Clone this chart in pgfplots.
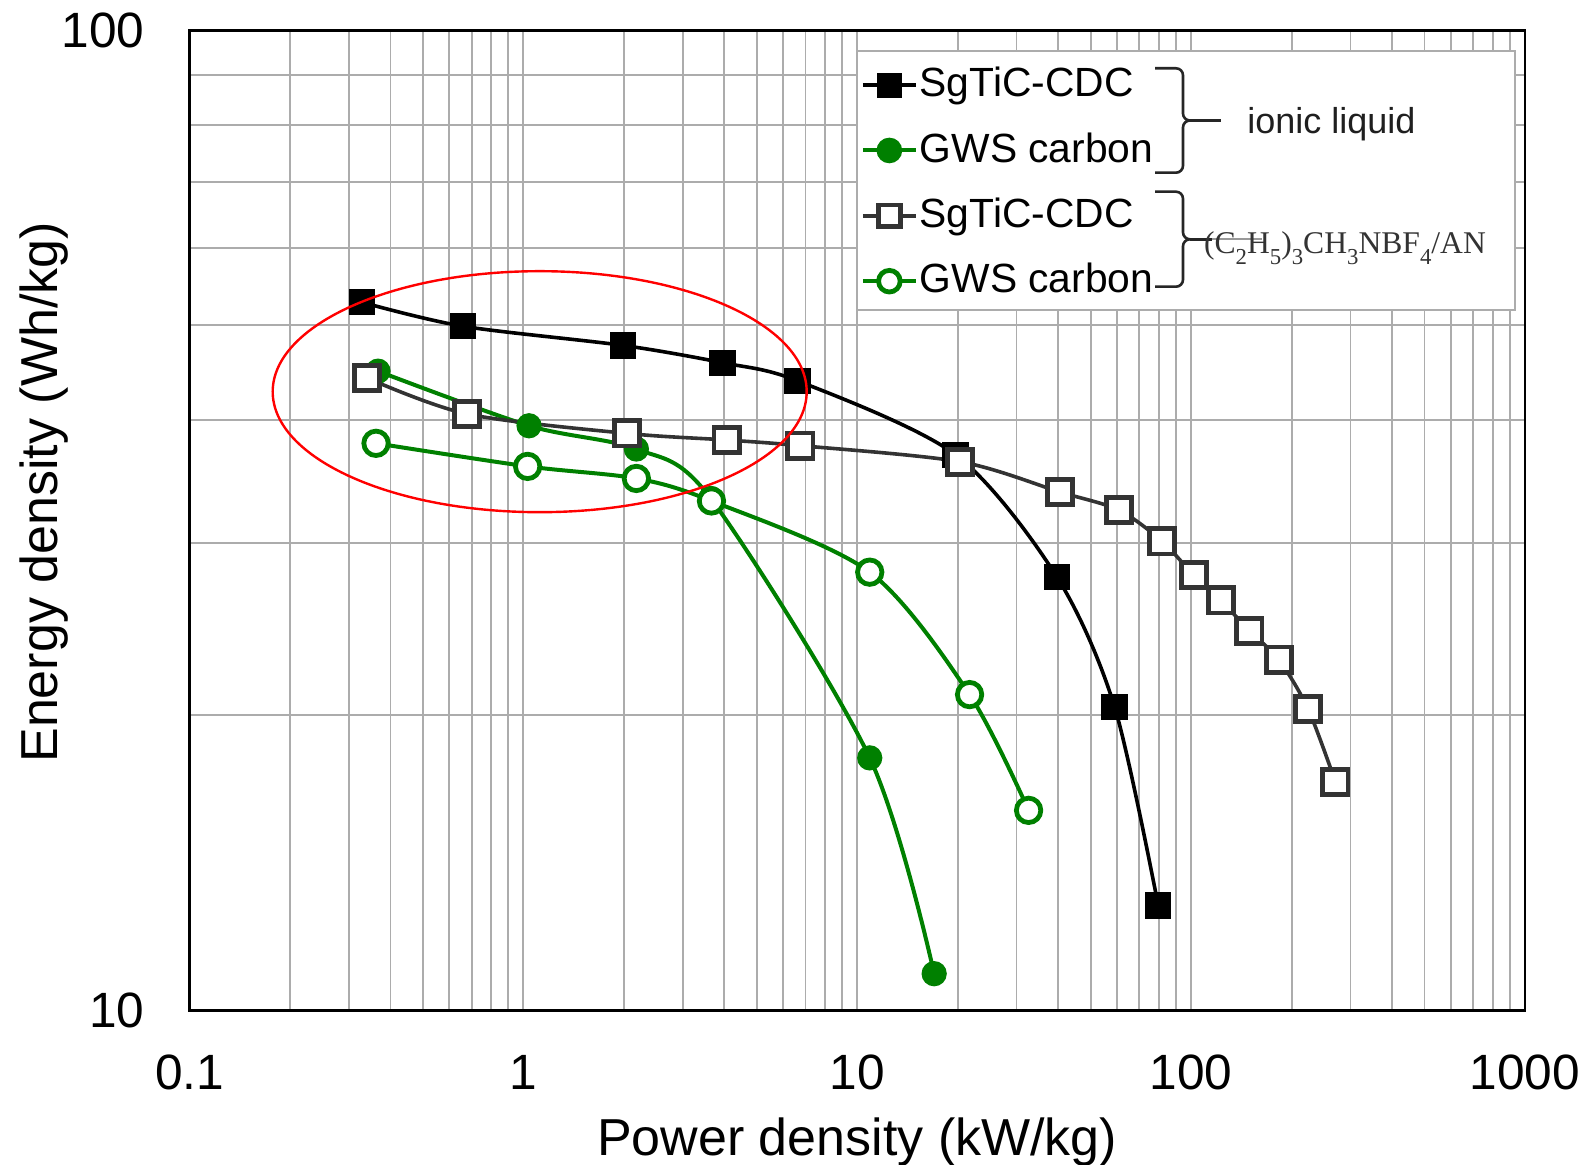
\documentclass[border=0pt]{standalone}
\usepackage{pgfplots}
\pgfplotsset{compat=1.18}
\usepackage{fontspec}
\setmainfont{Liberation Sans}
\newfontfamily\seriffont{Liberation Serif}
\definecolor{mygreen}{RGB}{0,128,0}
\definecolor{dgray}{RGB}{51,51,51}
\definecolor{gridgray}{RGB}{172,172,172}
\newcommand{\sub}[1]{\raisebox{-2.7pt}{\fontsize{5.7}{6}\selectfont #1}}
\begin{document}
\begin{tikzpicture}
\path[use as bounding box] (-47.375pt,-38.65pt) rectangle (349.875pt,252.6pt);
\begin{axis}[
  at={(0pt,0pt)}, anchor=south west,
  width=333.875pt, height=245pt, scale only axis,
  xmode=log, ymode=log,
  xmin=0.1, xmax=1000, ymin=10, ymax=100,
  xtick={0.1,1,10,100,1000}, xticklabels={0.1,1,10,100,1000},
  ytick={10,100}, yticklabels={10,100},
  minor xtick={0.2,0.3,0.4,0.5,0.6,0.7,0.8,0.9,2,3,4,5,6,7,8,9,20,30,40,50,60,70,80,90,200,300,400,500,600,700,800,900},
  minor ytick={20,30,40,50,60,70,80,90},
  grid=both,
  major grid style={gridgray, line width=0.45pt},
  minor grid style={gridgray, line width=0.45pt},
  major tick length=0pt, minor tick length=0pt,
  axis line style={black, line width=0.6pt},
  tick label style={font=\fontsize{12.4}{14}\selectfont},
  xticklabel style={anchor=base, yshift=-19.75pt},
  yticklabel style={anchor=east, inner sep=0pt, xshift=-11.1pt},
  xlabel={Power density (kW/kg)},
  ylabel={Energy density (Wh/kg)},
  label style={font=\fontsize{13}{15}\selectfont},
  xlabel style={at={(axis description cs:0.5,-0.1478)}, anchor=base},
  ylabel style={at={(axis description cs:-0.1088,0.5285)}, anchor=center},
  legend style={at={(axis description cs:0.5022,0.9631)}, anchor=north west,
    draw=none, fill=none, inner sep=0pt, row sep=7.45pt, column sep=0.5pt,
    font=\fontsize{10.2}{12}\selectfont, nodes={inner sep=0pt}},
  legend cell align=left,
  legend image code/.code={\draw[mark repeat=2,mark phase=2] plot coordinates {(0pt,0pt) (6.6pt,0pt) (13.2pt,0pt)};},
  legend image post style={mark size=2.7pt},
]
\fill[white, draw=gridgray, line width=0.5pt] (axis description cs:0.4996,0.9793) rectangle (axis description cs:0.9925,0.7147);

\addplot[black, line width=0.9pt, smooth, mark=square*, mark size=2.85pt, mark options={solid, fill=black}] coordinates {
 (0.328,52.8) (0.659,49.9) (1.99,47.7) (3.95,45.8) (6.62,43.9) (19.7,36.9) (39.6,27.7) (59.0,20.4) (79.7,12.8)};
\addlegendentry{SgTiC-CDC}
\addplot[mygreen, line width=1pt, smooth, mark=*, mark size=2.65pt, mark options={solid, fill=mygreen}] coordinates {
 (0.367,44.9) (1.04,39.5) (2.18,37.4) (3.64,33.3) (10.9,18.1) (17.0,10.9)};
\addlegendentry{GWS carbon}
\addplot[dgray, line width=0.9pt, smooth, mark=square*, mark size=3.15pt, mark options={solid, fill=white, line width=1.2pt}] coordinates {
 (0.340,44.2) (0.679,40.6) (2.04,38.8) (4.06,38.2) (6.76,37.7) (20.3,36.3) (40.5,33.8) (60.7,32.4) (81.9,30.1) (101.8,27.8) (122.9,26.2) (149.4,24.4) (183.0,22.8) (224.1,20.3) (270.6,17.1)};
\addlegendentry{SgTiC-CDC}
\addplot[mygreen, line width=1pt, smooth, mark=*, mark size=3.05pt, mark options={solid, fill=white, line width=1.2pt}] coordinates {
 (0.362,37.9) (1.03,35.9) (2.18,34.9) (3.66,33.1) (10.9,28.0) (21.7,21.0) (32.6,16.0)};
\addlegendentry{GWS carbon}
\end{axis}
\begin{scope}[x=0.25pt,y=-0.25pt,shift={(-47.375pt,252.6pt)}]
 \draw[red, line width=0.6pt] (539.7,391.7) ellipse [x radius=267, y radius=120.5];
 \draw[line width=0.65pt, black!85] (1155,68.3) -- (1176,68.3) to[out=0,in=90] (1183,75.3) -- (1183,113.5) to[out=-90,in=180] (1190,120.5) to[out=180,in=90] (1183,127.5) -- (1183,165.7) to[out=-90,in=0] (1176,172.7) -- (1155,172.7);
 \draw[line width=0.65pt, black!85] (1190,120.5) -- (1221,120.5);
 \draw[line width=0.65pt, black!85] (1155,191.7) -- (1176,191.7) to[out=0,in=90] (1183,198.7) -- (1183,232.3) to[out=-90,in=180] (1190,239.3) to[out=180,in=90] (1183,246.3) -- (1183,279.7) to[out=-90,in=0] (1176,286.7) -- (1155,286.7);
 \draw[line width=0.65pt, black!85] (1190,239.3) -- (1212,239.3);
 \draw[line width=0.5pt, black!40] (1212,239.3) -- (1262,239.3);
 \node[anchor=west, inner sep=0pt, font=\fontsize{9}{11}\selectfont, text=black!88] at (1246.5,124.5) {ionic liquid};
 \node[anchor=base west, inner sep=0pt, font=\seriffont\fontsize{7.9}{9}\selectfont, text=dgray] at (1203.3,253.3) {(C\sub{2}H\sub{5})\sub{3}CH\sub{3}NBF\sub{4}/AN};
\end{scope}
\end{tikzpicture}
\end{document}
